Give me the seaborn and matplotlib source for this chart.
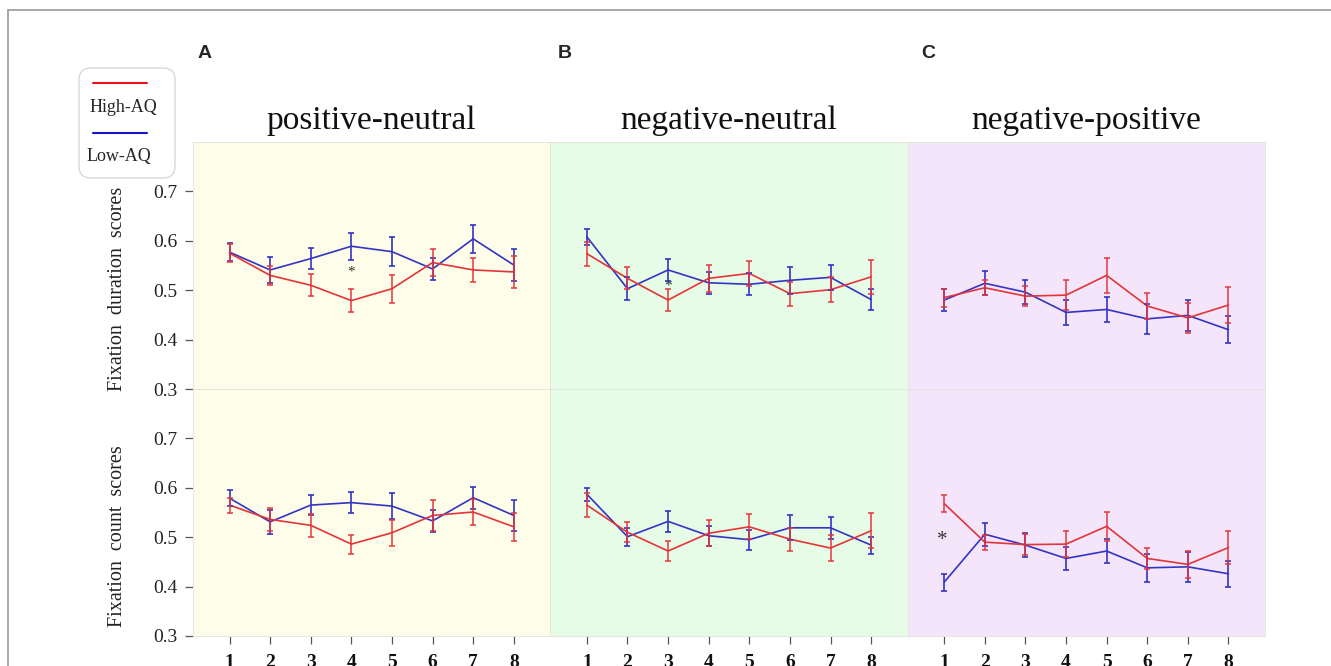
import numpy as np
import pandas as pd
import matplotlib.pyplot as plt
import seaborn as sns
from matplotlib.lines import Line2D
from matplotlib.patches import FancyBboxPatch

sns.set_style("white")
plt.rcParams["font.family"] = ["Liberation Serif", "DejaVu Serif"]

blocks = [1, 2, 3, 4, 5, 6, 7, 8]
titles = ["positive-neutral", "negative-neutral", "negative-positive"]
letters = ["A", "B", "C"]
row_labels = ["Fixation  duration  scores", "Fixation  count  scores"]
y_ticks = [0.3, 0.4, 0.5, 0.6, 0.7]

# fixation duration scores (top row)
dur_pn_high = [0.575, 0.530, 0.510, 0.479, 0.503, 0.556, 0.541, 0.537]
dur_pn_high_err = [0.018, 0.020, 0.022, 0.023, 0.028, 0.028, 0.025, 0.032]
dur_pn_low = [0.577, 0.541, 0.564, 0.589, 0.578, 0.543, 0.604, 0.551]
dur_pn_low_err = [0.018, 0.027, 0.021, 0.027, 0.030, 0.023, 0.028, 0.033]

dur_nn_high = [0.574, 0.524, 0.480, 0.524, 0.534, 0.493, 0.501, 0.527]
dur_nn_high_err = [0.024, 0.022, 0.023, 0.028, 0.025, 0.024, 0.025, 0.035]
dur_nn_low = [0.608, 0.503, 0.541, 0.515, 0.512, 0.520, 0.526, 0.481]
dur_nn_low_err = [0.016, 0.023, 0.023, 0.022, 0.022, 0.027, 0.025, 0.022]

dur_np_high = [0.485, 0.505, 0.488, 0.490, 0.530, 0.468, 0.444, 0.470]
dur_np_high_err = [0.018, 0.015, 0.020, 0.030, 0.036, 0.026, 0.031, 0.037]
dur_np_low = [0.480, 0.514, 0.496, 0.455, 0.461, 0.442, 0.449, 0.420]
dur_np_low_err = [0.022, 0.024, 0.024, 0.025, 0.026, 0.030, 0.032, 0.027]

# fixation count scores (bottom row)
cnt_pn_high = [0.565, 0.536, 0.524, 0.486, 0.509, 0.544, 0.551, 0.521]
cnt_pn_high_err = [0.015, 0.023, 0.023, 0.019, 0.026, 0.031, 0.026, 0.029]
cnt_pn_low = [0.579, 0.531, 0.565, 0.570, 0.563, 0.533, 0.580, 0.544]
cnt_pn_low_err = [0.016, 0.025, 0.020, 0.021, 0.027, 0.022, 0.022, 0.032]

cnt_nn_high = [0.565, 0.510, 0.472, 0.508, 0.521, 0.496, 0.478, 0.513]
cnt_nn_high_err = [0.024, 0.020, 0.021, 0.026, 0.025, 0.023, 0.027, 0.035]
cnt_nn_low = [0.587, 0.501, 0.532, 0.503, 0.495, 0.519, 0.519, 0.484]
cnt_nn_low_err = [0.013, 0.018, 0.021, 0.020, 0.020, 0.025, 0.022, 0.017]

cnt_np_high = [0.568, 0.490, 0.485, 0.486, 0.522, 0.457, 0.445, 0.479]
cnt_np_high_err = [0.017, 0.015, 0.021, 0.026, 0.029, 0.022, 0.028, 0.034]
cnt_np_low = [0.409, 0.506, 0.484, 0.457, 0.472, 0.438, 0.440, 0.426]
cnt_np_low_err = [0.017, 0.023, 0.024, 0.023, 0.024, 0.029, 0.031, 0.026]

# significance stars: (row, col, x, y, size)
stars = [(0, 0, 4, 0.537, 11), (0, 1, 3, 0.508, 11), (1, 2, 0.95, 0.494, 15)]

panels = [
    [(dur_pn_high, dur_pn_high_err, dur_pn_low, dur_pn_low_err),
     (dur_nn_high, dur_nn_high_err, dur_nn_low, dur_nn_low_err),
     (dur_np_high, dur_np_high_err, dur_np_low, dur_np_low_err)],
    [(cnt_pn_high, cnt_pn_high_err, cnt_pn_low, cnt_pn_low_err),
     (cnt_nn_high, cnt_nn_high_err, cnt_nn_low, cnt_nn_low_err),
     (cnt_np_high, cnt_np_high_err, cnt_np_low, cnt_np_low_err)],
]

bg_colors = ["#fdfde9", "#e6fce6", "#f5e5fb"]
red = "#e3343a"
blue = "#3434c4"

W, H = 1331, 666
fig = plt.figure(figsize=(W / 100, H / 100), dpi=100)
gs = fig.add_gridspec(2, 3, left=193 / W, right=1265 / W,
                      top=1 - 142 / H, bottom=1 - 636 / H, wspace=0, hspace=0)

for r in range(2):
    for c in range(3):
        ax = fig.add_subplot(gs[r, c])
        ax.set_facecolor(bg_colors[c])
        hi, hi_err, lo, lo_err = panels[r][c]
        df = pd.DataFrame({
            "block": blocks * 2,
            "score": hi + lo,
            "group": ["High-AQ"] * 8 + ["Low-AQ"] * 8,
        })
        sns.lineplot(data=df, x="block", y="score", hue="group",
                     palette={"High-AQ": red, "Low-AQ": blue},
                     hue_order=["Low-AQ", "High-AQ"],
                     linewidth=1.2, legend=False, ax=ax)
        ax.errorbar(blocks, lo, yerr=lo_err, fmt="none", ecolor=blue,
                    elinewidth=1.2, capsize=2, capthick=1.2)
        ax.errorbar(blocks, hi, yerr=hi_err, fmt="none", ecolor=red,
                    elinewidth=1.2, capsize=2, capthick=1.2, alpha=0.9)

        ax.set_xlim(0.1, 8.9)
        ax.set_ylim(0.3, 0.8)
        ax.set_xlabel("")
        ax.set_ylabel("")
        for sp in ax.spines.values():
            sp.set_color("#e2e6dc")
            sp.set_linewidth(0.7)

        if r == 1:
            ax.set_xticks(blocks)
            ax.set_xticklabels([str(b) for b in blocks], fontweight="bold", fontsize=14)
            ax.tick_params(axis="x", bottom=True, length=6, width=0.9,
                           color="#555555", pad=7, labelcolor="#111111")
        else:
            ax.set_xticks([])

        if c == 0:
            ax.set_yticks(y_ticks)
            ax.set_yticklabels([f"{t:.1f}" for t in y_ticks], fontsize=14)
            ax.tick_params(axis="y", left=True, length=6, width=0.9,
                           color="#555555", pad=5, labelcolor="#222222")
            ax.set_ylabel(row_labels[r], fontsize=14.5, color="#222222")
            ax.yaxis.set_label_coords(-0.185, 0.405)
        else:
            ax.set_yticks([])

        if r == 0:
            ax.set_title(titles[c], fontsize=24, pad=9, color="#111111")

        for sr, sc, sx, sy, ss in stars:
            if sr == r and sc == c:
                ax.text(sx, sy, "*", fontsize=ss, ha="center", va="center",
                        color="#333333")

# panel letters
for lx, lt in zip([198, 558, 921], letters):
    fig.text(lx / W, 1 - 53 / H, lt, fontsize=14, fontweight="bold",
             family="Liberation Sans", va="center", ha="left")

# frame lines of the original figure border
fig.add_artist(Line2D([8 / W, 1], [1 - 10 / H, 1 - 10 / H], color="#9a9a9a", lw=1.2))
fig.add_artist(Line2D([8 / W, 8 / W], [0, 1 - 10 / H], color="#9a9a9a", lw=1.2))

# legend drawn by hand (lines above labels)
tr = fig.dpi_scale_trans
box = FancyBboxPatch((0.79, (H - 178) / 100), 0.96, 1.10,
                     boxstyle="round,pad=0,rounding_size=0.12",
                     transform=tr, facecolor="white", edgecolor="#d9d9d9", lw=1.0)
fig.add_artist(box)
fig.add_artist(Line2D([0.93, 1.47], [(H - 83) / 100] * 2, transform=tr, color="#e8141c", lw=1.5))
fig.add_artist(Line2D([0.93, 1.47], [(H - 133) / 100] * 2, transform=tr, color="#1414c8", lw=1.5))
fig.text(1.23 / (W / 100), 1 - 108 / H, "High-AQ", fontsize=13, ha="center", va="center")
fig.text(1.19 / (W / 100), 1 - 157 / H, "Low-AQ", fontsize=13, ha="center", va="center")

fig.savefig("out.png", dpi=100)
